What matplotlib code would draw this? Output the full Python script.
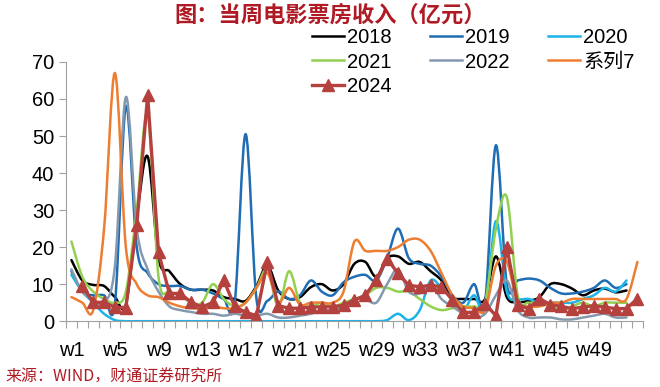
import numpy as np
import matplotlib
matplotlib.use("Agg")
import matplotlib.pyplot as plt
from matplotlib.path import Path
from matplotlib.patches import PathPatch
from matplotlib.lines import Line2D

plt.rcParams['font.family'] = ['Liberation Sans', 'Noto Sans CJK SC', 'DejaVu Sans']

nan = np.nan
weeks = np.arange(1, 54)
tick_labels = ['w%d' % w for w in range(1, 50, 4)]

y2018 = [16.5, 11, 9.8, 9.5, 6.5, 4.5, 28, 44.5, 17, 13.5, 10, 8.5, 8.5, 8.3, 6.5, 6, 5.5, 9.5, 15, 8.3,
         6, 6.5, 9.2, 10, 8.3, 10, 15.5, 16, 12, 17, 17.5, 15.5, 16, 13.5, 11, 6.5, 6, 6, 6, 17.5,
         6.5, 5.2, 5.5, 6.5, 10, 10, 8.8, 7, 8.3, 8.8, 7.8, 8.3, nan]
y2019 = [13.5, 8, 7, 7, 5, 58, 20, 13, 10, 9.5, 9.5, 8.5, 8.5, 7.5, 6, 5, 50.5, 6, 5.5, 8,
         6, 7, 11, 8, 7, 10.5, 12, 12.5, 11, 17, 25, 17, 15.5, 15, 12, 7, 5, 10, 5, 47.5,
         10, 11, 11.5, 11, 9, 7.5, 7.5, 8, 9, 11, 9, 10, nan]
y2020 = [12.5, 8, 5, 2, 0.3, 0, 0, 0, 0, 0, 0, 0, 0, 0, 0, 0, 0, 0, 0, 0,
         0, 0, 0, 0, 0, 0, 0, 0, 0, 0.3, 2, 0.3, 3, 11, 9, 6, 3, 7, 3, 27,
         8, 6, 6, 5, 5, 5, 5, 6, 7, 9, 8, 11, nan]
y2021 = [21.5, 12, 8, 6, 5, 8, 30, 56, 12, 8, 7, 5, 5, 10, 6, 4, 5, 9, 14, 4,
         13.5, 5, 4, 5, 4, 5, 6, 7, 9, 9, 8, 8, 6, 4, 3, 3.5, 4, 4, 5, 25,
         33.5, 7, 5, 5, 4, 3, 4, 5, 4, 5, 5, 5, nan]
y2022 = [14, 8, 6, 5, 15, 60.5, 25, 14, 8, 4, 3, 2.5, 2, 2, 1.5, 2, 1.5, 1.5, 2, 1,
         1, 1.5, 2, 3, 3, 4, 6, 6, 5, 10, 14, 8, 7.5, 10, 6, 4, 2, 1, 2, 7,
         11, 3, 1, 1, 1, 0.5, 0.5, 1, 1.5, 2, 1, 1, nan]
y2023 = [6.5, 5, 3, 25, 67, 20, 10, 7, 6.5, 5, 4, 3.5, 3.5, 4, 3.5, 3.5, 5, 9, 13, 5,
         9, 4.5, 5, 5, 5, 8, 21.5, 19, 19, 19, 20, 22, 22, 19, 13, 7, 4, 3.5, 3, 15,
         16, 5, 4, 4, 5, 5, 6, 6, 6, 6, 6, 6, 16]
y2024 = [nan, 9.4, 5.1, 5.1, 3.8, 3.7, 25.9, 61, 18.6, 7.5, 7.5, 5.1, 3.8, 5.1, 11, 4, 2.4, 1.5, 16, 4.2,
         3.5, 3.5, 3.8, 3.9, 3.9, 4.3, 5.7, 7, 11, 16.9, 12.9, 9.7, 9.3, 9.7, 9.3, 5.7, 2.4, 2.4, 4.7, 1.5,
         20, 4.5, 3.4, 6.1, 4.5, 4, 3.4, 3.8, 4.2, 3.8, 3.4, 3.4, 6.1]

series = [('2018', y2018, '#000000'),
          ('2019', y2019, '#1f6db3'),
          ('2020', y2020, '#1cb3e8'),
          ('2021', y2021, '#92d050'),
          ('2022', y2022, '#8499ae'),
          ('系列7', y2023, '#ed7d31')]


def smooth_path(x, y):
    # Excel style smoothed line: cubic bezier through the points
    ok = ~np.isnan(y)
    x, y = x[ok], y[ok]
    pts = np.column_stack([x, y])
    p = np.vstack([pts[0], pts, pts[-1]])
    verts = [pts[0]]
    codes = [Path.MOVETO]
    for i in range(1, len(p) - 2):
        c1 = p[i] + (p[i + 1] - p[i - 1]) / 6.0
        c2 = p[i + 1] - (p[i + 2] - p[i]) / 6.0
        verts += [c1, c2, p[i + 1]]
        codes += [Path.CURVE4] * 3
    return Path(verts, codes)


fig = plt.figure(figsize=(6.6, 3.87), dpi=100)
ax = fig.add_axes([0.1, 0.17, 0.874, 0.67])

handles = {}
for name, vals, col in series:
    path = smooth_path(weeks.astype(float), np.array(vals, dtype=float))
    ax.add_patch(PathPatch(path, facecolor='none', edgecolor=col, lw=1.8,
                           capstyle='round', joinstyle='round'))
    handles[name] = Line2D([], [], color=col, lw=1.8)

l24, = ax.plot(weeks, y2024, color='#b5413e', lw=2.4, marker='^', markersize=8,
               markerfacecolor='#b5413e', markeredgecolor='#b5413e')
handles['2024'] = l24

ax.set_xlim(0.5, 53.5)
ax.set_ylim(0, 70)
ax.set_yticks(range(0, 71, 10))
ax.set_xticks(range(1, 50, 4))
ax.set_xticklabels(tick_labels)
ax.set_xticks(np.arange(0.5, 54, 1), minor=True)
ax.tick_params(axis='x', which='major', length=0, labelsize=14.5, pad=14)
ax.tick_params(axis='x', which='minor', length=5, color='#a0a0a0', width=0.8)
ax.tick_params(axis='y', length=5, color='#a0a0a0', width=0.8, labelsize=14.5)
for s in ['top', 'right']:
    ax.spines[s].set_visible(False)
for s in ['left', 'bottom']:
    ax.spines[s].set_color('#a0a0a0')
    ax.spines[s].set_linewidth(0.8)

order = ['2018', '2021', '2024', '2019', '2022', '2020', '系列7']
ax.legend([handles[k] for k in order], order, ncol=3, frameon=False,
          loc='upper right', bbox_to_anchor=(1.0, 1.16), fontsize=14.5,
          handlelength=1.6, handletextpad=0.15, columnspacing=1.9,
          labelspacing=0.25, borderaxespad=0)

fig.text(0.5, 0.962, '图：当周电影票房收入（亿元）', ha='center', va='center',
         fontsize=16, fontweight='bold', color='#b01a24', family='Noto Sans CJK SC')
fig.text(0.008, 0.026, '来源：WIND，财通证券研究所', ha='left', va='center',
         fontsize=11.5, color='#b01a24', family='Noto Sans CJK SC')

fig.savefig('out.png', dpi=100)
